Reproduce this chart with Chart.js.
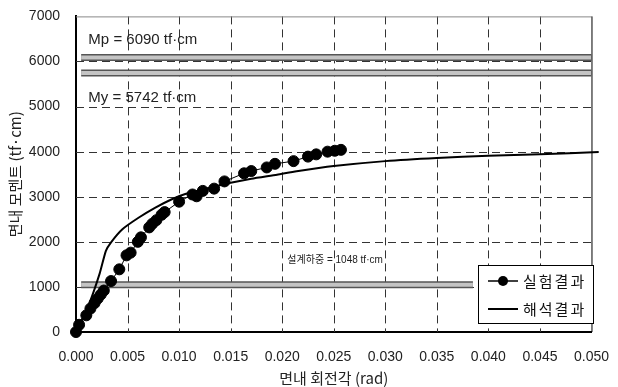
<!DOCTYPE html>
<html>
<head>
<meta charset="utf-8">
<script src="https://cdn.jsdelivr.net/npm/chart.js@4/dist/chart.umd.min.js"></script>
<style>
  html, body { margin: 0; padding: 0; background: #fff; }
  #wrap { width: 618px; height: 387px; }
</style>
</head>
<body>
<div id="wrap"><canvas id="momentChart" width="618" height="387"></canvas></div>
<script>
// test results: in-plane rotation (rad) vs in-plane moment (tf·cm)
const expRotation = [0, 0.0003, 0.0010, 0.0014, 0.0018, 0.0021, 0.0024, 0.0027, 0.0034, 0.0042,
  0.0049, 0.0053, 0.0060, 0.0063, 0.0071, 0.0074, 0.0078, 0.0083, 0.0086, 0.0100,
  0.0113, 0.0117, 0.0123, 0.0134, 0.0144, 0.0163, 0.0170, 0.0185, 0.0193, 0.0211,
  0.0225, 0.0233, 0.0244, 0.0251, 0.0257];
const expMoment = [0, 160, 370, 520, 640, 740, 830, 920, 1130, 1390,
  1700, 1760, 2000, 2100, 2320, 2400, 2480, 2600, 2660, 2890,
  3050, 3010, 3130, 3180, 3340, 3520, 3570, 3650, 3730, 3790,
  3890, 3940, 4000, 4020, 4040];

// analysis curve
const anaRotation = [0, 0.0013, 0.0023, 0.0029, 0.0034, 0.0045, 0.0061, 0.0077, 0.0093, 0.0106,
  0.0130, 0.0150, 0.0170, 0.0195, 0.0214, 0.0250, 0.0300, 0.0350, 0.0400, 0.0450, 0.0507];
const anaMoment = [0, 640, 1300, 1800, 1990, 2280, 2540, 2760, 2945, 3060,
  3200, 3310, 3400, 3490, 3565, 3680, 3790, 3860, 3910, 3945, 3990];

// reference moments
const plasticMoment = 6090;
const yieldMoment = 5742;
const designMoment = 1048;
const limitSpan = [0.0005, 0.050];
const designSpan = [0.0005, 0.0385];

const seriesNames = ['실험결과', '해석결과'];
const xTicks = [0, 0.005, 0.01, 0.015, 0.02, 0.025, 0.03, 0.035, 0.04, 0.045, 0.05];

const FONT = '"Liberation Sans", Arial, "Noto Sans CJK KR", sans-serif';
const KFONT = '"Noto Sans CJK KR", sans-serif';

const toPoints = (xs, ys) => xs.map((x, i) => ({ x: x, y: ys[i] }));
const flat = (span, v) => span.map(x => ({ x: x, y: v }));

// a grey band with a dark edge: wide dark line under a narrower light one
function band(span, v) {
  return [
    { data: flat(span, v), borderColor: '#555', borderWidth: 7, pointRadius: 0, showLine: true, order: 5, clip: 0 },
    { data: flat(span, v), borderColor: '#c4c4c4', borderWidth: 4, pointRadius: 0, showLine: true, order: 4, clip: 0 }
  ];
}

// dashed grid drawn from the scale ticks
const dashedGrid = {
  id: 'dashedGrid',
  beforeDatasetsDraw(chart) {
    const { ctx, chartArea: a, scales: { x, y } } = chart;
    ctx.save();
    ctx.strokeStyle = '#333';
    ctx.lineWidth = 1;
    ctx.setLineDash([8, 5]);
    x.ticks.forEach(t => {
      if (t.value <= x.min || t.value >= x.max) return;
      const px = Math.round(x.getPixelForValue(t.value)) + 0.5;
      ctx.beginPath();
      ctx.moveTo(px, a.top);
      ctx.lineTo(px, a.bottom);
      ctx.stroke();
    });
    y.ticks.forEach(t => {
      if (t.value <= y.min || t.value >= y.max) return;
      const py = Math.round(y.getPixelForValue(t.value)) + 0.5;
      ctx.beginPath();
      ctx.moveTo(a.left, py);
      ctx.lineTo(a.right, py);
      ctx.stroke();
    });
    ctx.restore();
  }
};

const annotations = {
  id: 'annotations',
  afterDraw(chart) {
    const { ctx, chartArea: a, scales: { x, y } } = chart;
    ctx.save();
    // top and right frame
    ctx.strokeStyle = '#888';
    ctx.lineWidth = 1;
    ctx.beginPath();
    ctx.moveTo(a.left, a.top + 0.5);
    ctx.lineTo(a.right, a.top + 0.5);
    ctx.stroke();
    ctx.strokeStyle = '#000';
    ctx.beginPath();
    ctx.moveTo(a.right + 0.5, a.top);
    ctx.lineTo(a.right + 0.5, a.bottom);
    ctx.stroke();

    // band labels
    ctx.fillStyle = '#222';
    ctx.textBaseline = 'middle';
    ctx.textAlign = 'left';
    ctx.font = '15px ' + FONT;
    ctx.fillText('Mp = 6090 tf·cm', x.getPixelForValue(0.0012), y.getPixelForValue(6470));
    ctx.fillText('My = 5742 tf·cm', x.getPixelForValue(0.0012), y.getPixelForValue(5190));
    ctx.font = '10px ' + FONT;
    ctx.fillText('설계하중 = 1048 tf·cm', x.getPixelForValue(0.0205), y.getPixelForValue(1585));

    // legend box
    const lx = 478, ly = 265, lw = 115, lh = 58;
    ctx.fillStyle = '#fff';
    ctx.fillRect(lx, ly, lw, lh);
    ctx.strokeStyle = '#000';
    ctx.lineWidth = 1;
    ctx.strokeRect(lx + 0.5, ly + 0.5, lw, lh);
    const rows = [ly + 16, ly + 44];
    ctx.lineWidth = 1.5;
    ctx.beginPath();
    ctx.moveTo(lx + 10, rows[0]);
    ctx.lineTo(lx + 40, rows[0]);
    ctx.stroke();
    ctx.fillStyle = '#000';
    ctx.beginPath();
    ctx.arc(lx + 25, rows[0], 5, 0, Math.PI * 2);
    ctx.fill();
    ctx.lineWidth = 2;
    ctx.beginPath();
    ctx.moveTo(lx + 10, rows[1]);
    ctx.lineTo(lx + 40, rows[1]);
    ctx.stroke();
    ctx.font = '15px ' + KFONT;
    ctx.fillStyle = '#111';
    ctx.letterSpacing = '2px';
    ctx.fillText(seriesNames[0], lx + 45, rows[0]);
    ctx.fillText(seriesNames[1], lx + 45, rows[1]);
    ctx.restore();
  }
};

new Chart(document.getElementById('momentChart'), {
  type: 'scatter',
  data: {
    datasets: [
      ...band(limitSpan, plasticMoment),
      ...band(limitSpan, yieldMoment),
      ...band(designSpan, designMoment),
      {
        label: seriesNames[1],
        data: toPoints(anaRotation, anaMoment),
        showLine: true,
        borderColor: '#000',
        borderWidth: 2,
        pointRadius: 0,
        tension: 0.2,
        order: 2,
        clip: { left: 0, top: 0, right: 10, bottom: 0 }
      },
      {
        label: seriesNames[0],
        data: toPoints(expRotation, expMoment),
        showLine: true,
        borderColor: '#000',
        borderWidth: 1,
        backgroundColor: '#000',
        pointBackgroundColor: '#000',
        pointBorderColor: '#000',
        pointRadius: 5.5,
        order: 1,
        clip: 8
      }
    ]
  },
  options: {
    responsive: false,
    animation: false,
    layout: { padding: { top: 14, right: 18, left: 0, bottom: 0 } },
    plugins: { legend: { display: false }, tooltip: { enabled: false } },
    scales: {
      x: {
        type: 'linear',
        min: 0,
        max: 0.05,
        afterBuildTicks: s => { s.ticks = xTicks.map(v => ({ value: v })); },
        afterFit: s => { s.height = 55; },
        ticks: {
          color: '#222',
          font: { family: FONT, size: 14 },
          padding: 9,
          maxRotation: 0,
          callback: v => v.toFixed(3)
        },
        grid: { display: false },
        border: { color: '#000', width: 2 },
        title: { display: true, text: '면내 회전각 (rad)', color: '#222', font: { family: KFONT, size: 15 }, padding: { top: 0, bottom: 0 } }
      },
      y: {
        min: 0,
        max: 7000,
        afterFit: s => { s.width = 76; },
        ticks: {
          stepSize: 1000,
          color: '#222',
          font: { family: FONT, size: 14 },
          padding: 8,
          callback: v => String(v)
        },
        grid: { display: false },
        border: { color: '#000', width: 2 },
        title: { display: true, text: '면내 모멘트 (tf·cm)', color: '#222', font: { family: KFONT, size: 15 }, padding: { top: 6, bottom: 0 } }
      }
    }
  },
  plugins: [dashedGrid, annotations]
});
</script>
</body>
</html>
